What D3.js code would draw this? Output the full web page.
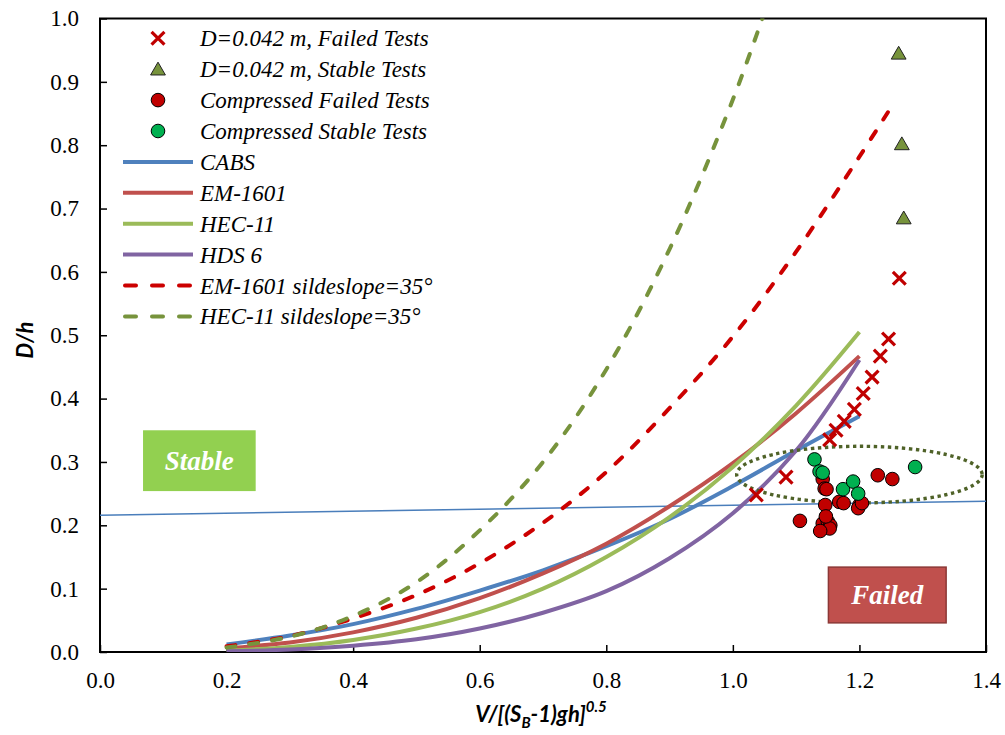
<!DOCTYPE html>
<html>
<head>
<meta charset="utf-8">
<script src="https://cdn.jsdelivr.net/npm/d3@7"></script>
<style>
  body { margin: 0; background: #fff; }
</style>
</head>
<body>
<svg width="1005" height="735"></svg>
<script>
// x values shared by the design curves
const curveX = [0.2, 0.3, 0.4, 0.5, 0.6, 0.7, 0.8, 0.9, 1.0, 1.1, 1.2];
const cabsY   = [0.012, 0.026, 0.044, 0.068, 0.097, 0.129, 0.167, 0.210, 0.262, 0.318, 0.372];
const em1601Y = [0.006, 0.015, 0.031, 0.054, 0.085, 0.124, 0.171, 0.230, 0.298, 0.377, 0.467];
const hec11Y  = [0.002, 0.008, 0.019, 0.037, 0.063, 0.100, 0.150, 0.213, 0.292, 0.389, 0.505];
const hds6Y   = [0.001, 0.004, 0.010, 0.020, 0.037, 0.062, 0.096, 0.148, 0.219, 0.318, 0.461];

// side slope 35 deg curves
const em35X  = [0.2, 0.3, 0.4, 0.5, 0.6, 0.7, 0.8, 0.9, 1.0, 1.1, 1.2, 1.245];
const em35Y  = [0.009, 0.025, 0.053, 0.090, 0.140, 0.204, 0.284, 0.385, 0.498, 0.632, 0.782, 0.852];
const hec35X = [0.2, 0.3, 0.4, 0.5, 0.6, 0.7, 0.8, 0.9, 1.0, 1.05];
const hec35Y = [0.007, 0.024, 0.057, 0.110, 0.192, 0.300, 0.446, 0.636, 0.872, 1.01];

// thin reference line
const refX = [0, 1.4];
const refY = [0.216, 0.238];

// D=0.042 m tests
const failX = [1.037, 1.084, 1.153, 1.163, 1.176, 1.192, 1.206, 1.220, 1.233, 1.246, 1.263];
const failY = [0.248, 0.276, 0.335, 0.350, 0.364, 0.383, 0.408, 0.434, 0.467, 0.494, 0.590];
const stableX = [1.262, 1.267, 1.270];
const stableY = [0.945, 0.802, 0.685];

// compressed tests
const compFailX = [1.142, 1.145, 1.148, 1.146, 1.168, 1.175, 1.200, 1.198, 1.204, 1.106, 1.142, 1.150, 1.154, 1.153, 1.138, 1.147, 1.229, 1.252];
const compFailY = [0.273, 0.258, 0.257, 0.232, 0.237, 0.235, 0.232, 0.227, 0.235, 0.207, 0.203, 0.206, 0.200, 0.195, 0.191, 0.214, 0.279, 0.273];
const compStableX = [1.129, 1.137, 1.142, 1.174, 1.190, 1.198, 1.288];
const compStableY = [0.304, 0.285, 0.283, 0.257, 0.269, 0.250, 0.292];

// dotted ellipse: centre and radii in data units
const ellipseC = [1.2, 0.280];
const ellipseR = [0.194, 0.0447];

const xTicks = [0, 0.2, 0.4, 0.6, 0.8, 1.0, 1.2, 1.4];
const yTicks = [0, 0.1, 0.2, 0.3, 0.4, 0.5, 0.6, 0.7, 0.8, 0.9, 1.0];

const legendLabels = ["D=0.042 m, Failed Tests", "D=0.042 m, Stable Tests", "Compressed Failed Tests",
  "Compressed Stable Tests", "CABS", "EM-1601", "HEC-11", "HDS 6",
  "EM-1601 sildeslope=35°", "HEC-11 sildeslope=35°"];

const serif = "'Liberation Serif', 'Times New Roman', serif";

var svg = d3.select("svg");
var x = d3.scaleLinear().domain([0, 1.4]).range([100, 986]);
var y = d3.scaleLinear().domain([0, 1]).range([652, 18.5]);

svg.append("clipPath").attr("id", "clip")
  .append("rect")
  .attr("x", x(0)).attr("y", y(1))
  .attr("width", x(1.4) - x(0)).attr("height", y(0) - y(1));

function styleAxis(g) {
  g.select(".domain").remove();
  g.selectAll(".tick line").attr("stroke", "#000").attr("stroke-width", 1.5);
  g.selectAll(".tick text").style("font-family", serif).style("font-size", "23px").attr("fill", "#000");
}

// axes
svg.append("g")
  .attr("transform", "translate(0," + y(0) + ")")
  .call(d3.axisBottom(x).tickValues(xTicks).tickSize(-7).tickPadding(20).tickFormat(d3.format(".1f")))
  .call(styleAxis);

svg.append("g")
  .attr("transform", "translate(" + x(0) + ",0)")
  .call(d3.axisLeft(y).tickValues(yTicks).tickSize(-7).tickPadding(21).tickFormat(d3.format(".1f")))
  .call(styleAxis);

// frame
svg.append("rect")
  .attr("x", x(0)).attr("y", y(1))
  .attr("width", x(1.4) - x(0)).attr("height", y(0) - y(1))
  .attr("fill", "none").attr("stroke", "#000").attr("stroke-width", 2);

// annotation boxes
svg.append("rect")
  .attr("x", x(0.068)).attr("y", y(0.350))
  .attr("width", x(0.246) - x(0.068)).attr("height", y(0.254) - y(0.350))
  .attr("fill", "#92D050");
svg.append("text")
  .attr("x", (x(0.068) + x(0.246)) / 2).attr("y", y(0.302))
  .attr("dy", "0.35em").attr("text-anchor", "middle")
  .style("font-family", serif).style("font-size", "27px")
  .style("font-weight", "bold").style("font-style", "italic").attr("fill", "#fff")
  .text("Stable");

svg.append("rect")
  .attr("x", x(1.151)).attr("y", y(0.134))
  .attr("width", x(1.337) - x(1.151)).attr("height", y(0.046) - y(0.134))
  .attr("fill", "#C0504D").attr("stroke", "#8C3836").attr("stroke-width", 1.5);
svg.append("text")
  .attr("x", (x(1.151) + x(1.337)) / 2).attr("y", y(0.090))
  .attr("dy", "0.35em").attr("text-anchor", "middle")
  .style("font-family", serif).style("font-size", "27px")
  .style("font-weight", "bold").style("font-style", "italic").attr("fill", "#fff")
  .text("Failed");

var plot = svg.append("g").attr("clip-path", "url(#clip)");

var line = d3.line().x(d => x(d[0])).y(d => y(d[1])).curve(d3.curveCatmullRom.alpha(0.5));

// thin line
plot.append("path")
  .attr("d", line(d3.zip(refX, refY)))
  .attr("fill", "none").attr("stroke", "#4A7EBB").attr("stroke-width", 1.5);

var series = [
  { xs: curveX, ys: cabsY, color: "#4F81BD", dash: null },
  { xs: curveX, ys: em1601Y, color: "#C0504D", dash: null },
  { xs: curveX, ys: hec11Y, color: "#9BBB59", dash: null },
  { xs: curveX, ys: hds6Y, color: "#8064A2", dash: null },
  { xs: em35X, ys: em35Y, color: "#CC0000", dash: "9,14" },
  { xs: hec35X, ys: hec35Y, color: "#77933C", dash: "9,14" }
];

series.forEach(function(s) {
  plot.append("path")
    .attr("d", line(d3.zip(s.xs, s.ys)))
    .attr("fill", "none")
    .attr("stroke", s.color)
    .attr("stroke-width", 4)
    .attr("stroke-linecap", s.dash ? "round" : "butt")
    .attr("stroke-dasharray", s.dash);
});

// dotted ellipse
svg.append("ellipse")
  .attr("cx", x(ellipseC[0])).attr("cy", y(ellipseC[1]))
  .attr("rx", x(ellipseC[0] + ellipseR[0]) - x(ellipseC[0]))
  .attr("ry", y(ellipseC[1] - ellipseR[1]) - y(ellipseC[1]))
  .attr("fill", "none").attr("stroke", "#4F6228")
  .attr("stroke-width", 3.4).attr("stroke-dasharray", "3.4,3.6");

// markers
var cross = d3.symbol().type(d3.symbolX).size(110);
var tri = d3.symbol().type(d3.symbolTriangle).size(95);

svg.append("g").selectAll("path")
  .data(d3.zip(failX, failY)).enter().append("path")
  .attr("d", cross)
  .attr("transform", d => "translate(" + x(d[0]) + "," + y(d[1]) + ")")
  .attr("fill", "none").attr("stroke", "#C00000").attr("stroke-width", 3.2);

svg.append("g").selectAll("path")
  .data(d3.zip(stableX, stableY)).enter().append("path")
  .attr("d", tri)
  .attr("transform", d => "translate(" + x(d[0]) + "," + (y(d[1]) + 1.5) + ")")
  .attr("fill", "#77933C").attr("stroke", "#222").attr("stroke-width", 1);

svg.append("g").selectAll("circle")
  .data(d3.zip(compFailX, compFailY)).enter().append("circle")
  .attr("cx", d => x(d[0])).attr("cy", d => y(d[1])).attr("r", 6.8)
  .attr("fill", "#C00000").attr("stroke", "#000").attr("stroke-width", 1);

svg.append("g").selectAll("circle")
  .data(d3.zip(compStableX, compStableY)).enter().append("circle")
  .attr("cx", d => x(d[0])).attr("cy", d => y(d[1])).attr("r", 6.8)
  .attr("fill", "#00B050").attr("stroke", "#000").attr("stroke-width", 1);

// legend
var legend = svg.append("g");
legendLabels.forEach(function(label, i) {
  var ly = 38.3 + i * 30.9;
  var mx = 158;
  if (i == 0) {
    legend.append("path").attr("d", cross).attr("transform", "translate(" + mx + "," + ly + ")")
      .attr("fill", "none").attr("stroke", "#C00000").attr("stroke-width", 3.2);
  } else if (i == 1) {
    legend.append("path").attr("d", tri).attr("transform", "translate(" + mx + "," + (ly + 1.5) + ")")
      .attr("fill", "#77933C").attr("stroke", "#222").attr("stroke-width", 1);
  } else if (i == 2 || i == 3) {
    legend.append("circle").attr("cx", mx).attr("cy", ly).attr("r", 6.8)
      .attr("fill", i == 2 ? "#C00000" : "#00B050").attr("stroke", "#000").attr("stroke-width", 1);
  } else {
    var s = series[i - 4];
    legend.append("line")
      .attr("x1", s.dash ? 125 : 123).attr("x2", s.dash ? 191 : 193)
      .attr("y1", ly).attr("y2", ly)
      .attr("stroke", s.color).attr("stroke-width", 4)
      .attr("stroke-linecap", s.dash ? "round" : "butt")
      .attr("stroke-dasharray", s.dash ? "11,16" : null);
  }
  legend.append("text")
    .attr("x", 200).attr("y", ly).attr("dy", "0.35em")
    .style("font-family", serif).style("font-size", "23px").style("font-style", "italic")
    .text(label);
});

// axis titles
var xt = svg.append("text")
  .attr("x", 541).attr("y", 722).attr("text-anchor", "middle")
  .style("font-family", "Lato").style("font-size", "22px")
  .style("font-weight", "bold").style("font-style", "italic");
xt.append("tspan").text("V/[(S");
xt.append("tspan").attr("dy", 6).style("font-size", "15px").text("B");
xt.append("tspan").attr("dy", -6).text("-1)gh]");
xt.append("tspan").attr("dy", -10).style("font-size", "15px").text("0.5");

svg.append("text")
  .attr("transform", "translate(33,340) rotate(-90)")
  .attr("text-anchor", "middle")
  .style("font-family", "Lato").style("font-size", "22px")
  .style("font-weight", "bold").style("font-style", "italic")
  .text("D/h");
</script>
</body>
</html>
